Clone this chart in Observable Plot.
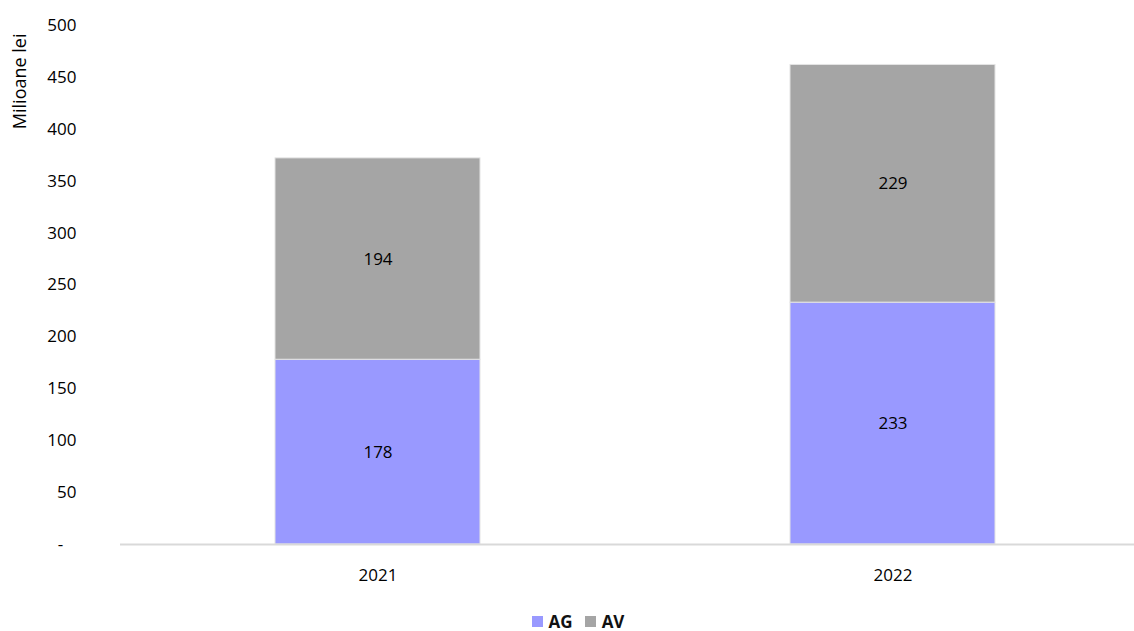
<!DOCTYPE html>
<html>
<head>
<meta charset="utf-8">
<script src="https://cdn.jsdelivr.net/npm/d3@7"></script>
<script src="https://cdn.jsdelivr.net/npm/@observablehq/plot@0.6"></script>
<style>
  html, body { margin: 0; padding: 0; background: #fff; }
  body { width: 1134px; height: 631px; overflow: hidden; font-family: "Open Sans", sans-serif; }
  #legend { display: flex; justify-content: center; align-items: center; gap: 12px; font-weight: bold; font-size: 17px; color: #111; height: 24px; margin-top: 19px; padding-left: 22px; }
  #legend span.sw { display: inline-block; width: 11px; height: 11px; margin-right: 6px; }
  #legend .item { display: flex; align-items: center; }
</style>
</head>
<body>
<div id="chart"></div>
<div id="legend"></div>
<script>
const years = ["2021", "2022"];
const seriesNames = ["AG", "AV"];
const agValues = [178, 233];
const avValues = [194, 229];
const colors = ["#9999FF", "#A5A5A5"];
const yTicks = [0, 50, 100, 150, 200, 250, 300, 350, 400, 450, 500];

const rows = [];
years.forEach((y, i) => {
  rows.push({year: y, series: "AG", value: agValues[i]});
  rows.push({year: y, series: "AV", value: avValues[i]});
});

const chart = Plot.plot({
  width: 1134,
  height: 590,
  marginLeft: 120,
  marginRight: 0,
  marginTop: 25,
  marginBottom: 46,
  style: {fontFamily: "Open Sans, sans-serif", fontSize: "17px", color: "#000", background: "#fff"},
  x: {domain: years, range: [120, 1150], paddingInner: 0.602, paddingOuter: 0.301, label: null},
  y: {domain: [0, 500], label: null},
  color: {domain: seriesNames, range: colors},
  marks: [
    Plot.axisY({ticks: yTicks, tickSize: 0, tickPadding: 44, tickFormat: d => d === 0 ? "-\u00a0\u00a0\u00a0" : d3.format("d")(d), fontSize: 17}),
    Plot.axisX({tickSize: 0, tickPadding: 24, fontSize: 17}),
    Plot.barY(rows, Plot.stackY({x: "year", y: "value", fill: "series", order: seriesNames, stroke: "#e4e4e4", strokeWidth: 1})),
    Plot.text(rows, Plot.stackY({x: "year", y: "value", z: "series", order: seriesNames, text: d => String(d.value), fill: "#000", fontSize: 17})),
    Plot.ruleY([0], {stroke: "#d9d9d9", strokeWidth: 2}),
    Plot.text(["Milioane lei"], {frameAnchor: "top-left", text: d => d, rotate: -90, textAnchor: "end", dx: -107, dy: 8, fontSize: 18, fill: "#000"})
  ]
});
document.getElementById("chart").appendChild(chart);

const legend = document.getElementById("legend");
seriesNames.forEach((s, i) => {
  const item = document.createElement("div");
  item.className = "item";
  const sw = document.createElement("span");
  sw.className = "sw";
  sw.style.background = colors[i];
  item.appendChild(sw);
  item.appendChild(document.createTextNode(s));
  legend.appendChild(item);
});
</script>
</body>
</html>
